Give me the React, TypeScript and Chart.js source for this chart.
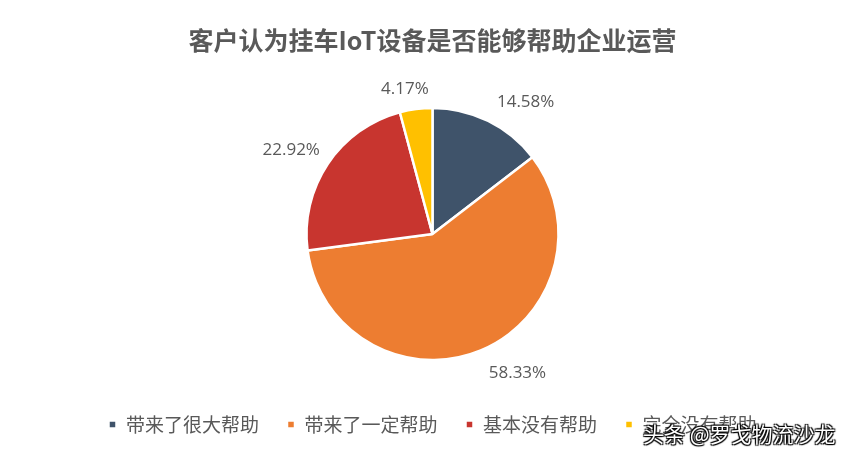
import React, { useEffect, useRef } from "react";
import { Chart, registerables } from "chart.js";

Chart.register(...registerables);

const titleText = "客户认为挂车IoT设备是否能够帮助企业运营";
const categories = ["带来了很大帮助", "带来了一定帮助", "基本没有帮助", "完全没有帮助"];
const values = [14.58, 58.33, 22.92, 4.17];
const valueLabels = ["14.58%", "58.33%", "22.92%", "4.17%"];
const colors = ["#3F536A", "#ED7D31", "#C8352F", "#FFC000"];
const watermark = "头条 @罗戈物流沙龙";

const CJK = '"Noto Sans CJK SC", "Microsoft YaHei", sans-serif';

const outsideLabels = {
  id: "outsideLabels",
  afterDatasetsDraw(chart: any) {
    const ctx = chart.ctx;
    const meta = chart.getDatasetMeta(0);
    ctx.save();
    ctx.font = '17px "Open Sans", "Noto Sans", sans-serif';
    ctx.fillStyle = "#595959";
    ctx.textAlign = "center";
    ctx.textBaseline = "middle";
    meta.data.forEach((arc: any, i: number) => {
      const { x, y, startAngle, endAngle, outerRadius } = arc.getProps(
        ["x", "y", "startAngle", "endAngle", "outerRadius"],
        true
      );
      const mid = (startAngle + endAngle) / 2;
      const dx = Math.cos(mid);
      const dy = Math.sin(mid);
      const r = outerRadius + 13;
      const px = x + dx * r;
      const py = y + dy * r;
      const text = valueLabels[i];
      const w = ctx.measureText(text).width;
      const h = 18;
      const sx = Math.sign(dx) * Math.min(1, Math.abs(dx) * 4);
      const sy = Math.sign(dy) * Math.min(1, Math.abs(dy) * 4);
      ctx.fillText(text, px + (w / 2) * sx + 3, py + (h / 2) * sy + 2);
    });
    ctx.restore();
  },
};

export default function App() {
  const canvasRef = useRef<HTMLCanvasElement | null>(null);

  useEffect(() => {
    if (!canvasRef.current) return;
    const chart = new Chart(canvasRef.current, {
      type: "pie",
      data: {
        labels: categories,
        datasets: [
          {
            data: values,
            backgroundColor: colors,
            borderColor: "#FFFFFF",
            borderWidth: 2.5,
            radius: 126,
          } as any,
        ],
      },
      options: {
        animation: false,
        responsive: true,
        maintainAspectRatio: false,
        layout: { padding: { bottom: 11 } },
        plugins: {
          title: {
            display: true,
            text: titleText,
            color: "#595959",
            font: { family: CJK, size: 25, weight: "bold" },
            padding: { top: 25, bottom: 26 },
          },
          legend: {
            display: true,
            position: "bottom",
            labels: {
              color: "#595959",
              font: { family: CJK, size: 19 },
              boxWidth: 8,
              boxHeight: 8,
              padding: 28,
            },
          },
          tooltip: { enabled: false },
        },
      },
      plugins: [outsideLabels],
    });
    return () => chart.destroy();
  }, []);

  return (
    <div
      style={{
        position: "absolute",
        left: 0,
        top: 0,
        width: 865,
        height: 455,
        background: "#FFFFFF",
      }}
    >
      <canvas ref={canvasRef} />
      <div
        style={{
          position: "absolute",
          left: 643,
          top: 418,
          fontFamily: CJK,
          fontSize: 21,
          color: "#FFFFFF",
          whiteSpace: "nowrap",
          textShadow:
            "1px 1px 1px #000, -1px -1px 1px #000, 1px -1px 1px #000, -1px 1px 1px #000",
        }}
      >
        {watermark}
      </div>
    </div>
  );
}
